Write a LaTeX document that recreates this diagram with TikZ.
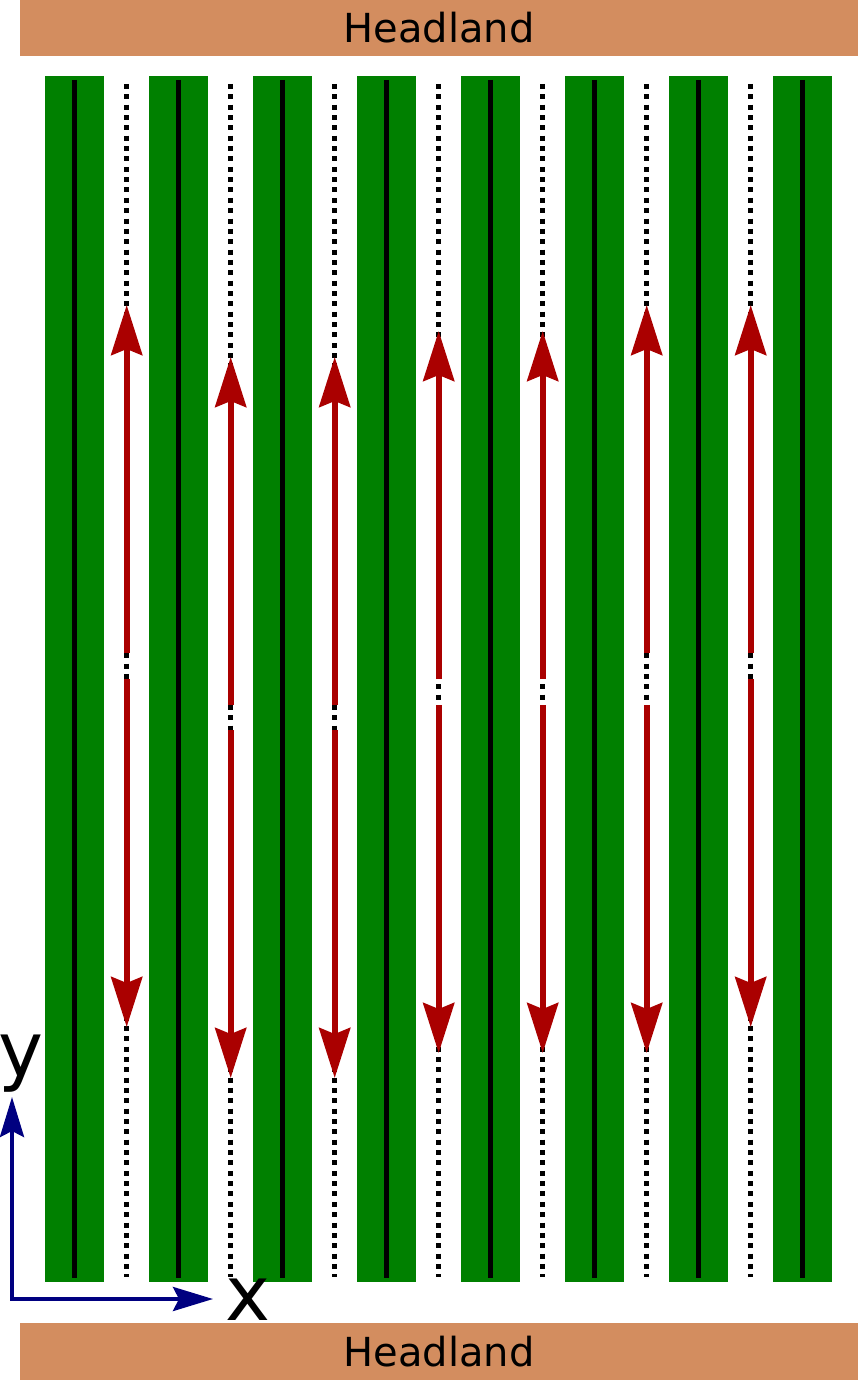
\documentclass[tikz,border=0pt]{standalone}
\usepackage{fontspec}
\setmainfont{DejaVu Sans}
\usetikzlibrary{arrows.meta}
\definecolor{soil}{HTML}{D38D5F}
\definecolor{crop}{HTML}{008000}
\definecolor{pathred}{HTML}{AA0000}
\definecolor{axisblue}{HTML}{000080}
\tikzset{
 headland/.style={fill=soil, draw=none, minimum width=838pt, inner sep=0pt, font=\fontsize{40}{40}\selectfont},
 croprow/.style={fill=crop, draw=none, minimum width=59.6pt, minimum height=1205.5pt, inner sep=0pt},
 rowline/.style={line width=5pt, black},
 laneline/.style={line width=5pt, black, dash pattern=on 5pt off 5.35pt},
 drive/.style={line width=6pt, draw=pathred, -{Stealth[length=50pt,width=31pt,inset=6pt]}},
 axisarrow/.style={line width=4pt, draw=axisblue, line join=miter, {Stealth[length=40pt,width=24pt,inset=6pt]}-{Stealth[length=40pt,width=24pt,inset=6pt]}},
 axislabel/.style={font=\fontsize{76}{76}\selectfont, inner sep=0pt, anchor=base}
}
\begin{document}
\begin{tikzpicture}[x=1pt,y=-1pt]
\useasboundingbox (0,0) rectangle (858,1380);
% headlands
\node[headland, minimum height=56pt] (headtop) at (439,28) {Headland};
\node[headland, minimum height=57pt] (headbottom) at (439,1351.5) {Headland};
% crop rows
\foreach \i in {0,...,7} {
  \node[croprow] (row\i) at ({74.5+104*\i},678.75) {};
  \draw[rowline] ({74.5+104*\i},80) -- ({74.5+104*\i},1278);
}
% lanes (dotted)
\foreach \k in {0,...,6} {
  \draw[laneline] ({126.7+104*\k},84) -- ({126.7+104*\k},1277);
}
% driving paths
\foreach \k/\us/\ut/\ds/\dt in {0/653/305/679/1027, 1/705/357/730/1078, 2/705/357/730/1078, 3/679/331/705/1053, 4/679/331/705/1053, 5/653/305/705/1053, 6/653/305/679/1027} {
  \coordinate (us\k) at ({126.7+104*\k},\us);
  \coordinate (ut\k) at ({126.7+104*\k},\ut);
  \coordinate (ds\k) at ({126.7+104*\k},\ds);
  \coordinate (dt\k) at ({126.7+104*\k},\dt);
  \draw[drive] (us\k) -- (ut\k);
  \draw[drive] (ds\k) -- (dt\k);
}
% axes
\coordinate (O) at (12,1299);
\coordinate (X) at (213,1299);
\coordinate (Y) at (12,1097);
\draw[axisarrow] (Y) -- (O) -- (X);
\node[axislabel] (ylab) at (21,1076) {y};
\node[axislabel] (xlab) at (247.5,1320) {x};
\end{tikzpicture}
\end{document}
